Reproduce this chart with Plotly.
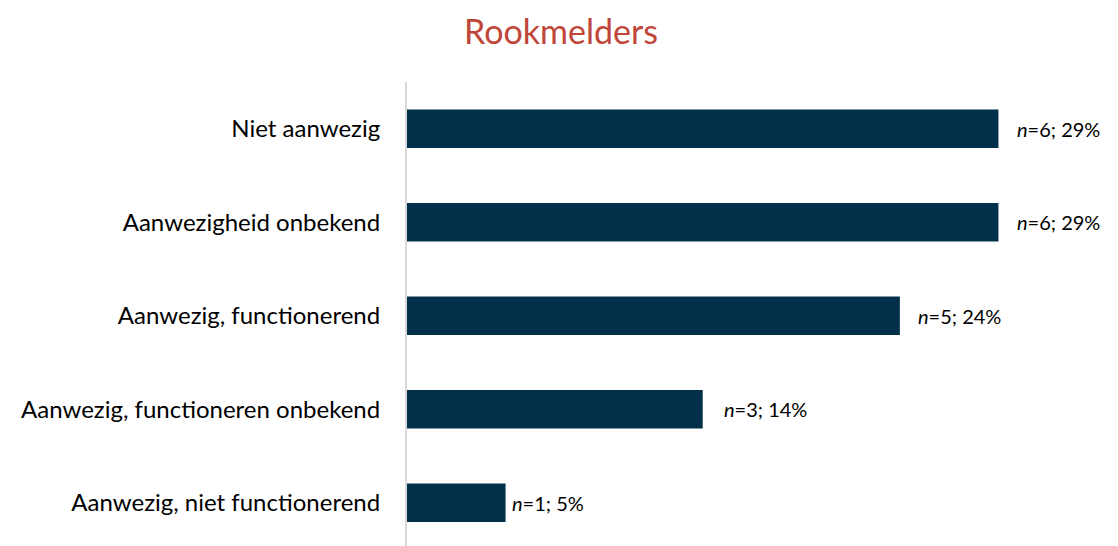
import plotly.graph_objects as go

categories = [
    "Niet aanwezig",
    "Aanwezigheid onbekend",
    "Aanwezig, functionerend",
    "Aanwezig, functioneren onbekend",
    "Aanwezig, niet functionerend",
]
counts = [6, 6, 5, 3, 1]
percents = [29, 29, 24, 14, 5]

labels = [f"<i>n</i>={n}; {p}%" for n, p in zip(counts, percents)]
label_gaps = [17, 17, 16, 19, 4]  # pixel gap between bar end and label (style)

fig = go.Figure(
    go.Bar(
        x=counts,
        y=categories,
        orientation="h",
        width=0.41,
        marker=dict(color="#02304B", line=dict(width=0)),
        hoverinfo="x+y",
    )
)

for cat, n, lab, gap in zip(categories, counts, labels, label_gaps):
    fig.add_annotation(
        x=n,
        y=cat,
        xref="x",
        yref="y",
        text=lab,
        showarrow=False,
        xanchor="left",
        yanchor="middle",
        xshift=gap,
        font=dict(size=20, color="#000000", family="Lato"),
    )

fig.update_layout(
    width=1118,
    height=546,
    margin=dict(l=399, r=29, t=74, b=0),
    plot_bgcolor="white",
    paper_bgcolor="white",
    font=dict(family="Lato", color="#000000"),
    title=dict(
        text="Rookmelders",
        x=0.4946,
        xanchor="center",
        y=0.955,
        yanchor="middle",
        font=dict(size=34, color="#C0463A", family="Lato"),
    ),
    showlegend=False,
)
fig.update_xaxes(
    range=[0, 7],
    showgrid=False,
    zeroline=False,
    showticklabels=False,
    showline=False,
)
fig.update_yaxes(
    categoryorder="array",
    categoryarray=categories,
    range=[4.548, -0.5],
    showgrid=False,
    zeroline=False,
    showline=True,
    linecolor="#D9D9D9",
    linewidth=2,
    ticks="",
    ticklabelstandoff=20,
    automargin=False,
    tickfont=dict(size=24, color="#000000", family="Lato"),
)

fig.write_html("out.html")
